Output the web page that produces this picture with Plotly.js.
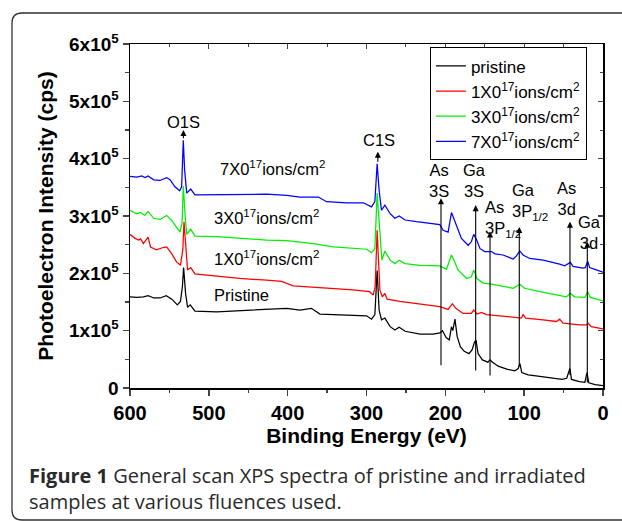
<!DOCTYPE html>
<html>
<head>
<meta charset="utf-8">
<script src="https://cdn.plot.ly/plotly-3.0.1.min.js"></script>
<style>
html,body{margin:0;padding:0;background:#fff;}
#chart{width:622px;height:521px;}
</style>
</head>
<body>
<div id="chart"></div>
<script>
// ---------- data (binding energy in eV, intensity in cps) ----------
const seriesNames = ['pristine', '1X0<sup>17</sup>ions/cm<sup>2</sup>', '3X0<sup>17</sup>ions/cm<sup>2</sup>', '7X0<sup>17</sup>ions/cm<sup>2</sup>'];
const seriesColors = ['#000000', '#ff0000', '#00f000', '#0000ff'];

const pristineEV = [600,591.5,583,577,570,562,554,547,540,536,533.5,532,529.5,527,523.6,517.6,490,460.5,426.7,407.7,401,384.5,370,359,342,317,300,293.6,289.4,286.5,284,281,276.7,270,264,258.6,251,232,215.5,207,203.6,199,195,192.2,190.5,187.8,185,181,176,170,166,163,161,158.5,153,146,143.3,140,133,122,112,107.5,105.5,103,95,85,75,60,52,46,42,40,30,23,20.3,18,10,0];
const pristineCPS = [159000,158000,159000,161000,157000,157000,161000,155000,145000,151000,177000,210000,165000,141000,145000,134000,133000,135000,137000,139000,139000,136000,139000,129000,128000,126000,126000,120000,128000,205000,136000,119000,122000,107000,101000,106000,99000,94000,94000,96000,100000,88000,84000,107000,100000,120000,90000,72000,64000,60000,67000,80000,83000,60000,49000,45000,49000,45000,38000,33000,30000,34000,43000,27000,23000,21000,19000,17000,15000,17000,34000,15000,11000,10000,27000,9000,6000,4000];

const fluence1EV = [600,593.6,589,586.5,583,577,574,566.5,558,553.5,547,541,536,533,531.5,529.5,527,523,517.6,490,460.5,426.7,407.7,393,367.6,342,317,296,291.5,289,286.5,283,280,276.7,273.8,257.7,232,207,196.5,191,186.7,177.5,167,164,160,154,148,122.5,103.5,101.4,98,76,59,55,50.7,29.6,21,19,14.8,0];
const fluence1CPS = [268000,261000,258000,260000,252000,263000,246000,241000,245000,246000,234000,220000,214000,241000,290000,246000,206000,210000,199000,195000,191000,188000,186000,178000,176000,173000,171000,168000,162000,177000,275000,171000,159000,165000,155000,151000,147000,142000,137000,147000,139000,130000,130000,136000,129000,132000,128000,125000,122000,128000,122000,119000,116000,120000,113000,110000,110000,113000,107000,103000];

const fluence3EV = [600,591.5,586.5,581,577,570,562,553.5,547,541,536.6,534,532.4,530,528,523,517.6,490,460.5,426.7,401,367.6,342,317,300,293.6,289.4,286.5,283,280.5,276.7,270,264,258.6,251,232,207,198.6,192.2,189,184,173,167,164,160,152,141.5,131,114,105.6,99.3,80,55,46.5,41.4,36,23,19.4,16,0];
const fluence3CPS = [310000,304000,306000,301000,308000,296000,294000,301000,292000,280000,272000,287000,352000,299000,268000,277000,265000,264000,261000,258000,257000,252000,246000,243000,242000,236000,243000,340000,264000,223000,239000,223000,217000,223000,217000,214000,213000,207000,232000,223000,206000,191000,194000,206000,191000,183000,181000,178000,174000,181000,174000,168000,162000,159000,165000,159000,158000,168000,158000,152000];

const fluence7EV = [600,591.5,585,581,577,570,562,553.5,549,543,537,534.5,532.4,530.7,528,523,517.6,490,460.5,426.7,401,384.5,361,350.7,325,304,293.6,289.4,286.5,284,281,276.7,270,264,258.6,251,236.6,215.5,207,202.8,196.5,192.2,189,186,179.6,171,167,164,160.5,156,150,141.5,137,126.8,114,110,105.6,101.4,93,76,55,48.6,41.4,38,25.4,22.4,19.4,17,8.5,0];
const fluence7CPS = [369000,368000,370000,367000,370000,363000,362000,367000,363000,351000,344000,351000,432000,380000,340000,347000,337000,337000,337000,338000,336000,333000,333000,325000,323000,323000,316000,325000,391000,345000,310000,319000,304000,296000,300000,293000,290000,287000,285000,275000,272000,306000,296000,284000,261000,249000,255000,268000,259000,243000,238000,238000,234000,232000,225000,230000,239000,232000,226000,223000,216000,213000,219000,212000,209000,210000,221000,210000,206000,202000];

const xTickVals = [600,500,400,300,200,100,0];
const yTickVals = [0,100000,200000,300000,400000,500000,600000];
const yTickText = ['0','1x10<sup>5</sup>','2x10<sup>5</sup>','3x10<sup>5</sup>','4x10<sup>5</sup>','5x10<sup>5</sup>','6x10<sup>5</sup>'];

// peak labels and arrows
const peakLabels = ['O1S','C1S','As<br>3S','Ga<br>3S','As<br>3P<sub>1/2</sub>','Ga<br>3P<sub>1/2</sub>','As<br>3d','Ga<br>3d'];
const peakArrowEV = [532.2,285.6,205.5,161.5,143.3,106.2,41.9,19.9];
const peakArrowHead = [450000,412000,331000,319000,273000,281000,290000,255000];
const peakArrowTail = [433000,392000,37000,28000,19000,35000,20000,7000];
const labelEV = [531.6,284.6,208.4,162.4,152.6,117.8,46.9,17.4];
const labelY = [464000,433000,362000,362000,295000,325000,331000,272000];
const labelAlign = ['center','center','center','center','left','left','center','center'];

// in-plot series labels
const seriesLabels = ['7X0<sup>17</sup>ions/cm<sup>2</sup>','3X0<sup>17</sup>ions/cm<sup>2</sup>','1X0<sup>17</sup>ions/cm<sup>2</sup>','Pristine'];
const seriesLabelEV = [488,496.5,496.5,496.5];
const seriesLabelY = [383000,299000,226000,163000];

const captionLines = ['<b>Figure 1</b> General scan XPS spectra of pristine and irradiated', 'samples at various fluences used.'];

// ---------- build ----------
const xs = [pristineEV, fluence1EV, fluence3EV, fluence7EV];
const ys = [pristineCPS, fluence1CPS, fluence3CPS, fluence7CPS];
const traces = xs.map((x, i) => ({
  type: 'scatter', mode: 'lines', x: x, y: ys[i], name: seriesNames[i],
  line: {color: seriesColors[i], width: 1.25}, legendgroup: 'g' + i
}));
traces.push({type:'scatter', mode:'lines', x:[null], y:[null], xaxis:'x2', yaxis:'y2', showlegend:false, hoverinfo:'skip'});

const W = 622, H = 521, ML = 130, MR = 19, MT = 44, MB = 133;
const pw = W - ML - MR, ph = H - MT - MB;
const px = v => ((v - ML) / pw).toFixed(4);
const py = v => ((H - MB - v) / ph).toFixed(4);
const framePath = `M ${px(640)},${py(13)} L ${px(22)},${py(13)} Q ${px(12)},${py(13)} ${px(12)},${py(23)} L ${px(12)},${py(510)} Q ${px(12)},${py(520)} ${px(22)},${py(520)} L ${px(640)},${py(520)}`;

const fontFam = 'Liberation Sans, Arial, sans-serif';
const annotations = [];
peakLabels.forEach((t, i) => {
  annotations.push({x: peakArrowEV[i], y: peakArrowHead[i], ax: peakArrowEV[i], ay: peakArrowTail[i],
    xref:'x', yref:'y', axref:'x', ayref:'y', text:'', showarrow:true,
    arrowhead:2, arrowsize:1.1, arrowwidth:1.1, arrowcolor:'#000', standoff:0, startstandoff:0});
  annotations.push({x: labelEV[i], y: labelY[i], xref:'x', yref:'y', text: t, showarrow:false,
    xanchor: labelAlign[i] === 'left' ? 'left' : 'center', yanchor:'middle', align: labelAlign[i],
    font:{family: fontFam, size:16.5, color:'#000'}});
});
seriesLabels.forEach((t, i) => {
  annotations.push({x: seriesLabelEV[i], y: seriesLabelY[i], xref:'x', yref:'y', text:t, showarrow:false,
    xanchor:'left', yanchor:'middle', font:{family: fontFam, size:16.5, color:'#000'}});
});
const captionY = [476, 501];
captionLines.forEach((t, i) => {
  annotations.push({x: px(27), y: py(captionY[i]), xref:'paper', yref:'paper', text: t, showarrow:false,
    xanchor:'left', yanchor:'middle', align:'left', font:{family:'Open Sans, Noto Sans, sans-serif', size:20, color:'#2a2a2a'}});
});

const layout = {
  width: W, height: H,
  margin: {l: ML, r: MR, t: MT, b: MB, pad: 0},
  paper_bgcolor: '#fff', plot_bgcolor: '#fff',
  font: {family: fontFam, color: '#000'},
  showlegend: true,
  legend: {x: 0.634, y: 0.99, xanchor:'left', yanchor:'top', bordercolor:'#000', borderwidth:1, bgcolor:'#fff',
    font:{family: fontFam, size:17, color:'#000'}, tracegroupgap: 0},
  xaxis: {range:[600,0], tickmode:'array', tickvals: xTickVals, ticks:'outside', ticklen:6, tickwidth:1.4,
    showline:true, linewidth:1.5, linecolor:'#000', showgrid:false, zeroline:false, fixedrange:true,
    tickfont:{family: fontFam, size:20, weight:'bold', color:'#000'},
    minor:{tickmode:'linear', tick0:0, dtick:50, ticks:'outside', ticklen:3.5, tickwidth:1.2, showgrid:false},
    title:{text:'Binding Energy (eV)', font:{family: fontFam, size:21, weight:'bold', color:'#000'}, standoff:6}},
  yaxis: {range:[0,600000], tickmode:'array', tickvals: yTickVals, ticktext: yTickText, ticks:'outside', ticklen:6, tickwidth:1.4,
    showline:true, linewidth:1.5, linecolor:'#000', showgrid:false, zeroline:false, fixedrange:true,
    tickfont:{family: fontFam, size:19, weight:'bold', color:'#000'},
    minor:{tickmode:'linear', tick0:0, dtick:50000, ticks:'outside', ticklen:3.5, tickwidth:1.2, showgrid:false},
    title:{text:'Photoelectron Intensity (cps)', font:{family: fontFam, size:21, weight:'bold', color:'#000'}, standoff:9}},
  xaxis2: {overlaying:'x', side:'top', anchor:'y2', range:[600,0], tickmode:'array', tickvals: xTickVals, ticks:'inside', ticklen:5, tickwidth:1.2,
    showticklabels:false, showline:true, linewidth:1.5, linecolor:'#000', showgrid:false, zeroline:false, fixedrange:true,
    minor:{tickmode:'linear', tick0:0, dtick:50, ticks:'inside', ticklen:3, tickwidth:1, showgrid:false}},
  yaxis2: {overlaying:'y', side:'right', anchor:'x2', range:[0,600000], tickmode:'array', tickvals: yTickVals, ticks:'inside', ticklen:5, tickwidth:1.2,
    showticklabels:false, showline:true, linewidth:1.5, linecolor:'#000', showgrid:false, zeroline:false, fixedrange:true,
    minor:{tickmode:'linear', tick0:0, dtick:50000, ticks:'inside', ticklen:3, tickwidth:1, showgrid:false}},
  shapes: [{type:'path', xref:'paper', yref:'paper', path: framePath, line:{color:'#333', width:1.3}, layer:'below'}],
  annotations: annotations
};

Plotly.newPlot('chart', traces, layout, {displayModeBar:false, staticPlot:true});
</script>
</body>
</html>
